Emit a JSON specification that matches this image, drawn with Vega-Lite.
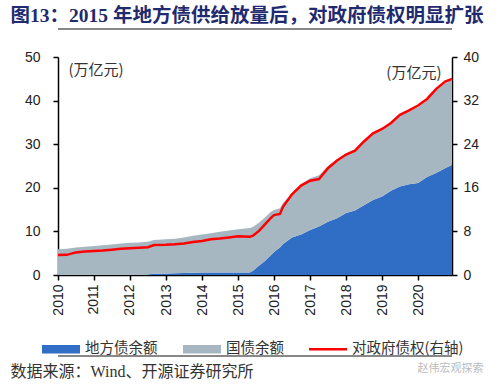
{
  "$schema": "https://vega.github.io/schema/vega-lite/v6.json",
  "width": 394,
  "height": 218,
  "autosize": {"type": "none"},
  "padding": {"left": 58, "top": 57, "right": 48, "bottom": 112},
  "background": "white",
  "config": {
    "view": {"stroke": null},
    "axis": {"labelFont": "Liberation Sans", "labelFontSize": 14, "labelColor": "#222", "domainColor": "#000", "domainWidth": 1.5, "tickColor": "#000", "tickWidth": 1.5, "tickSize": 5, "grid": false}
  },
  "data": {"values": [
    {"d": "2010-01-01", "地方债余额": 0, "国债余额": 5.9, "对政府债权": 3.67},
    {"d": "2010-04-01", "地方债余额": 0, "国债余额": 6.0, "对政府债权": 3.7},
    {"d": "2010-07-01", "地方债余额": 0, "国债余额": 6.3, "对政府债权": 4.15},
    {"d": "2010-10-01", "地方债余额": 0, "国债余额": 6.5, "对政府债权": 4.3},
    {"d": "2011-01-01", "地方债余额": 0, "国债余额": 6.65, "对政府债权": 4.4},
    {"d": "2011-04-01", "地方债余额": 0, "国债余额": 6.85, "对政府债权": 4.5},
    {"d": "2011-07-01", "地方债余额": 0, "国债余额": 7.0, "对政府债权": 4.65},
    {"d": "2011-10-01", "地方债余额": 0, "国债余额": 7.2, "对政府债权": 4.8},
    {"d": "2012-01-01", "地方债余额": 0, "国债余额": 7.4, "对政府债权": 4.9},
    {"d": "2012-04-01", "地方债余额": 0, "国债余额": 7.45, "对政府债权": 5.0},
    {"d": "2012-07-01", "地方债余额": 0.1, "国债余额": 7.5, "对政府债权": 5.1},
    {"d": "2012-09-01", "地方债余额": 0.3, "国债余额": 7.7, "对政府债权": 5.5},
    {"d": "2013-01-01", "地方债余额": 0.35, "国债余额": 7.85, "对政府债权": 5.56},
    {"d": "2013-04-01", "地方债余额": 0.4, "国债余额": 7.9, "对政府债权": 5.65},
    {"d": "2013-07-01", "地方债余额": 0.45, "国债余额": 8.15, "对政府债权": 5.8},
    {"d": "2013-10-01", "地方债余额": 0.5, "国债余额": 8.5, "对政府债权": 6.05},
    {"d": "2014-01-01", "地方债余额": 0.55, "国债余额": 8.75, "对政府债权": 6.24},
    {"d": "2014-04-01", "地方债余额": 0.6, "国债余额": 9.0, "对政府债权": 6.55},
    {"d": "2014-07-01", "地方债余额": 0.6, "国债余额": 9.3, "对政府债权": 6.7},
    {"d": "2014-10-01", "地方债余额": 0.6, "国债余额": 9.6, "对政府债权": 6.9},
    {"d": "2015-01-01", "地方债余额": 0.6, "国债余额": 9.9, "对政府债权": 7.1},
    {"d": "2015-05-01", "地方债余额": 0.6, "国债余额": 10.2, "对政府债权": 7.0},
    {"d": "2015-06-01", "地方债余额": 1.0, "国债余额": 10.0, "对政府债权": 7.2},
    {"d": "2015-08-01", "地方债余额": 2.1, "国债余额": 9.9, "对政府债权": 8.1},
    {"d": "2015-10-01", "地方债余额": 3.2, "国债余额": 10.0, "对政府债权": 9.3},
    {"d": "2015-12-01", "地方债余额": 4.6, "国债余额": 9.9, "对政府债权": 10.5},
    {"d": "2016-01-01", "地方债余额": 5.3, "国债余额": 9.6, "对政府债权": 11.0},
    {"d": "2016-03-01", "地方债余额": 6.3, "国债余额": 9.0, "对政府债权": 11.2},
    {"d": "2016-04-01", "地方债余额": 7.1, "国债余额": 9.4, "对政府债权": 12.5},
    {"d": "2016-07-01", "地方债余额": 8.6, "国债余额": 10.1, "对政府债权": 14.8},
    {"d": "2016-10-01", "地方债余额": 9.3, "国债余额": 11.5, "对政府债权": 16.4},
    {"d": "2017-01-01", "地方债余额": 10.3, "国债余额": 11.9, "对政府债权": 17.3},
    {"d": "2017-04-01", "地方债余额": 11.1, "国债余额": 11.8, "对政府债权": 17.6},
    {"d": "2017-07-01", "地方债余额": 12.2, "国债余额": 12.8, "对政府债权": 19.6},
    {"d": "2017-10-01", "地方债余额": 13.0, "国债余额": 13.5, "对政府债权": 21.0},
    {"d": "2018-01-01", "地方债余额": 14.2, "国债余额": 13.7, "对政府债权": 22.1},
    {"d": "2018-04-01", "地方债余额": 14.8, "国债余额": 14.0, "对政府债权": 22.8},
    {"d": "2018-07-01", "地方债余额": 16.0, "国债余额": 14.8, "对政府债权": 24.5},
    {"d": "2018-10-01", "地方债余额": 17.2, "国债余额": 15.4, "对政府债权": 26.0},
    {"d": "2019-01-01", "地方债余额": 18.0, "国债余额": 15.7, "对政府债权": 26.8},
    {"d": "2019-04-01", "地方债余额": 19.3, "国债余额": 15.6, "对政府债权": 27.9},
    {"d": "2019-07-01", "地方债余额": 20.3, "国债余额": 16.5, "对政府债权": 29.4},
    {"d": "2019-10-01", "地方债余额": 20.8, "国债余额": 16.8, "对政府债权": 30.2},
    {"d": "2020-01-01", "地方债余额": 21.1, "国债余额": 17.4, "对政府债权": 31.1},
    {"d": "2020-04-01", "地方债余额": 22.5, "国债余额": 17.5, "对政府债权": 32.3},
    {"d": "2020-07-01", "地方债余额": 23.4, "国债余额": 18.9, "对政府债权": 34.1},
    {"d": "2020-10-01", "地方债余额": 24.5, "国债余额": 19.5, "对政府债权": 35.5},
    {"d": "2020-12-10", "地方债余额": 25.3, "国债余额": 19.7, "对政府债权": 36.0}
  ]},
  "layer": [
    {
      "transform": [{"fold": ["地方债余额", "国债余额"], "as": ["s", "v"]}],
      "mark": {"type": "area", "opacity": 1},
      "encoding": {
        "x": {"field": "d", "type": "temporal",
              "scale": {"type": "utc", "domain": [{"year": 2010, "month": 1, "date": 1, "utc": true}, {"year": 2020, "month": 12, "date": 10, "utc": true}]},
              "axis": {"orient": "bottom", "format": "%Y", "formatType": "utc", "tickCount": "year", "labelAngle": 270, "labelAlign": "right", "labelBaseline": "middle", "labelPadding": 4, "title": null}},
        "y": {"field": "v", "type": "quantitative", "stack": "zero",
              "scale": {"domain": [0, 50], "nice": false},
              "axis": {"orient": "left", "values": [0, 10, 20, 30, 40, 50], "labelPadding": 13,
                       "title": "(万亿元)", "titleAngle": 0, "titleAlign": "left", "titleBaseline": "middle", "titleX": 10, "titleY": 12,
                       "titleFont": "Noto Sans CJK SC", "titleFontSize": 15, "titleFontWeight": "normal", "titleColor": "#333"}},
        "order": {"field": "s", "sort": "descending"},
        "color": {"field": "s", "type": "nominal",
                  "scale": {"domain": ["地方债余额", "国债余额", "对政府债权(右轴)"], "range": ["#2F6EC4", "#A6B7C2", "#FF0000"]},
                  "legend": {"orient": "none", "legendX": -16, "legendY": 273, "direction": "horizontal", "columns": 3, "title": null, "padding": 0,
                             "labelFont": "Noto Sans CJK SC", "labelFontSize": 14.5, "labelColor": "#333", "labelOffset": 5, "columnPadding": 25,
                             "symbolSize": 1444, "symbolStrokeWidth": 0, "symbolOpacity": 1,
                             "symbolType": "M-1,-0.22H1V0.22H-1Z",
                             "encode": {"symbols": {"update": {
                               "shape": {"signal": "datum.value === '对政府债权(右轴)' ? 'M-1,-0.07H1V0.07H-1Z' : 'M-1,-0.22H1V0.22H-1Z'"}}}}}}
      }
    },
    {
      "mark": {"type": "line", "strokeWidth": 2.5},
      "encoding": {
        "x": {"field": "d", "type": "temporal",
              "axis": {"orient": "top", "offset": 28, "domain": false, "labels": false, "ticks": false,
                       "title": "图13：2015 年地方债供给放量后，对政府债权明显扩张", "titleAlign": "left", "titleBaseline": "alphabetic",
                       "titleX": -48, "titleY": -8, "titleFont": "Liberation Serif, Noto Sans CJK SC", "titleFontSize": 19.5, "titleFontWeight": "bold", "titleColor": "#1F2B6E"}},
        "y": {"field": "对政府债权", "type": "quantitative",
              "scale": {"domain": [0, 40], "nice": false},
              "axis": {"orient": "right", "values": [0, 8, 16, 24, 32, 40], "labelPadding": 6,
                       "title": "(万亿元)", "titleAngle": 0, "titleAlign": "right", "titleBaseline": "middle", "titleX": -11, "titleY": 15,
                       "titleFont": "Noto Sans CJK SC", "titleFontSize": 15, "titleFontWeight": "normal", "titleColor": "#333"}},
        "color": {"datum": "对政府债权(右轴)", "type": "nominal"}
      }
    },
    {
      "layer": [
        {
          "mark": {"type": "line", "opacity": 0},
          "encoding": {
            "x": {"field": "d", "type": "temporal",
                  "axis": {"orient": "bottom", "offset": 81, "domain": false, "labels": false, "ticks": false,
                           "title": "数据来源：Wind、开源证券研究所", "titleAlign": "left", "titleBaseline": "alphabetic", "titleX": -48, "titleY": 20,
                           "titleFont": "Liberation Serif, Noto Sans CJK SC", "titleFontSize": 16, "titleFontWeight": "normal", "titleColor": "#333"}},
            "y": {"field": "对政府债权", "type": "quantitative",
                  "scale": {"domain": [0, 1], "range": [299, -28], "nice": false, "zero": false},
                  "axis": {"orient": "left", "domain": false, "ticks": false, "labels": false,
                           "title": "赵伟宏观探索", "titleAngle": 0, "titleAlign": "center", "titleBaseline": "middle", "titleX": 392, "titleY": 311,
                           "titleFont": "Noto Sans CJK SC", "titleFontSize": 11, "titleFontWeight": "normal", "titleColor": "#BBBBBB"}}
          }
        },
        {
          "mark": {"type": "rule", "color": "#888888", "strokeWidth": 1.5, "clip": false},
          "encoding": {"y": {"datum": 0, "type": "quantitative"}}
        },
        {
          "mark": {"type": "rule", "color": "#888888", "strokeWidth": 1.5, "clip": false},
          "encoding": {"y": {"datum": 1, "type": "quantitative"}}
        }
      ]
    }
  ],
  "resolve": {"scale": {"y": "independent"}, "axis": {"x": "independent", "y": "independent"}}
}
